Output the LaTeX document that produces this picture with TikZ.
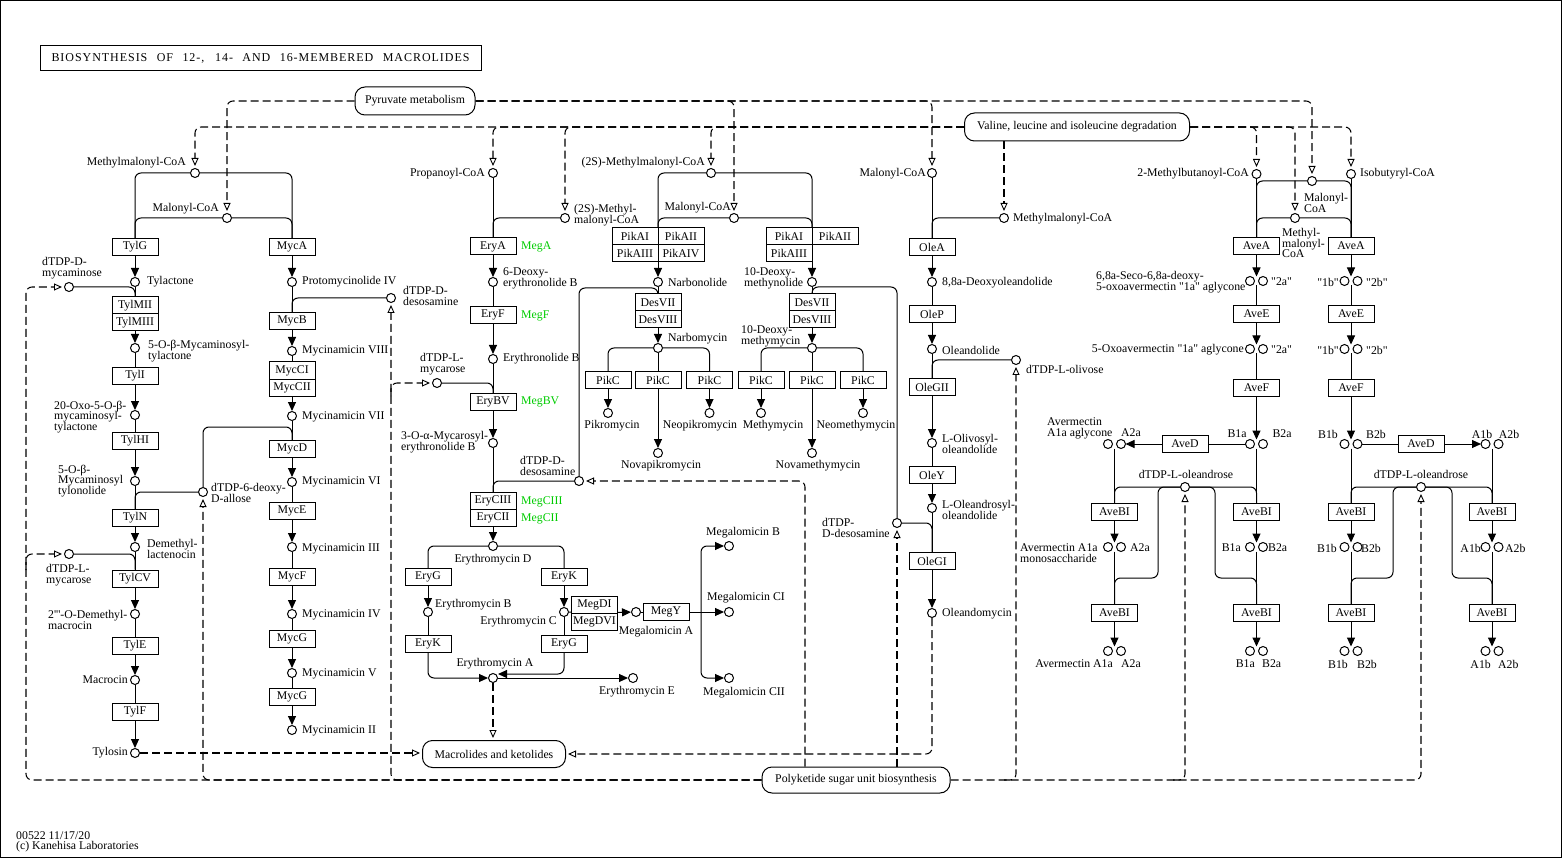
\documentclass[tikz,border=0pt]{standalone}
\usepackage{fontspec}
\setmainfont{Liberation Serif}
\usetikzlibrary{arrows.meta}
\pgfdeclarelayer{bg}
\pgfsetlayers{bg,main}
\definecolor{kgreen}{RGB}{0,204,0}
\newcommand\lf{\fontsize{11.8}{10.8}\selectfont}
\newcommand\qq{\textquotedbl}
\newcommand\Cpd[2]{\node[cpd] (#1) at (#2) {};}
\newcommand\Enz[3]{\node[enz] (#1) at (#2) {#3};}
\newcommand\Lbl[4]{\node[lbl,anchor=#2] (#1) at (#3) {#4};}
\newcommand\Grn[3]{\node[lbl,text=kgreen,anchor=west] (#1) at (#2) {#3};}
\newcommand\Pair[3]{\node[cpd] (#1l) at ({#2-6.5},#3) {};\node[cpd] (#1r) at ({#2+6.5},#3) {};\node[grp,minimum width=22pt,minimum height=9pt] (#1) at (#2,#3) {};}
\tikzset{
  cpd/.style={circle,draw,fill=white,line width=1pt,minimum size=9pt,inner sep=0pt},
  enz/.style={draw,fill=white,line width=1pt,minimum width=46pt,minimum height=17pt,inner sep=0pt,font=\lf},
  lbl/.style={font=\lf,inner sep=0pt,align=left},
  mapbox/.style={draw,fill=white,line width=1pt,rounded corners=10pt,inner sep=0pt,font=\lf},
  grp/.style={inner sep=0pt,outer sep=0pt},
  rx/.style={line width=1pt,rounded corners=6pt},
  fa/.style={-{Triangle[length=9pt,width=8pt]}},
  link/.style={line width=1.05pt,dash pattern=on 8pt off 4pt,rounded corners=6pt},
  oa/.style={-{Triangle[open,length=8pt,width=7pt,line width=0.9pt]},shorten >=2pt},
}
\begin{document}
\begin{tikzpicture}[x=1pt,y=-1pt]
\useasboundingbox (0,0) rectangle (1563,858);
\draw[line width=1pt] (0.5,0.5) rectangle (1561,857);
\node[draw,line width=1pt,minimum width=441pt,minimum height=25pt,inner sep=0pt] (title) at (260.5,58.5)
  {\fontsize{12}{12}\selectfont\addfontfeature{LetterSpace=8}\makebox[418pt][s]{BIOSYNTHESIS OF 12-, 14- AND 16-MEMBERED MACROLIDES}};
\Lbl{f1}{west}{16,836}{00522 11/17/20}
\Lbl{f2}{west}{16,847}{(c) Kanehisa Laboratories}

% map boxes
\node[mapbox,minimum width=120pt,minimum height=28pt] (pyr) at (415,101) {Pyruvate metabolism};
\node[mapbox,minimum width=225pt,minimum height=28pt] (val) at (1077,127) {Valine, leucine and isoleucine degradation};
\node[mapbox,minimum width=143pt,minimum height=27pt] (mak) at (494,754) {Macrolides and ketolides};
\node[mapbox,minimum width=188pt,minimum height=26pt] (pks) at (856,780) {Polyketide sugar unit biosynthesis};

% ---------- Tylosin ----------
\Cpd{cMm1}{195,173} \Lbl{t1}{east}{186,163}{Methylmalonyl-CoA}
\Cpd{cMal1}{227,218} \Lbl{t2}{east}{219,209}{Malonyl-CoA}
\Enz{eTylG}{135,247}{TylG}
\Cpd{cTylactone}{135,282} \Lbl{t3}{west}{147,282}{Tylactone}
\Cpd{cMycam}{69,287} \Lbl{t4}{west}{42,268}{dTDP-D-\\mycaminose}
\Enz{eTylMII}{135,305.5}{TylMII}
\Enz{eTylMIII}{135,322.5}{TylMIII}
\Cpd{cMtyl}{135,348} \Lbl{t5}{west}{148,351}{5-O-β-Mycaminosyl-\\tylactone}
\Enz{eTylI}{135,376}{TylI}
\Cpd{cOxo}{135,415} \Lbl{t6}{west}{54,417}{20-Oxo-5-O-β-\\mycaminosyl-\\tylactone}
\Enz{eTylHI}{135,441}{TylHI}
\Cpd{cMyctyl}{135,481} \Lbl{t7}{west}{58,481}{5-O-β-\\Mycaminosyl\\tylonolide}
\Cpd{cAllose}{203,492} \Lbl{t8}{west}{211,493}{dTDP-6-deoxy-\\D-allose}
\Enz{eTylN}{135,518}{TylN}
\Cpd{cDemeth}{135,547} \Lbl{t9}{west}{147,549}{Demethyl-\\lactenocin}
\Cpd{cMycar1}{69,554} \Lbl{t10}{west}{46,575}{dTDP-L-\\mycarose}
\Enz{eTylCV}{135,578.5}{TylCV}
\Cpd{cDemacro}{135,614} \Lbl{t11}{west}{48,620}{2\textquotesingle\textquotesingle\textquotesingle-O-Demethyl-\\macrocin}
\Enz{eTylE}{135,645.5}{TylE}
\Cpd{cMacrocin}{135,680} \Lbl{t12}{east}{128,680}{Macrocin}
\Enz{eTylF}{135,711.5}{TylF}
\Cpd{cTylosin}{135,753} \Lbl{t13}{east}{128,753}{Tylosin}

% ---------- Mycinamicin ----------
\Enz{eMycA}{292,247}{MycA}
\Cpd{cProto}{292,282} \Lbl{m1}{west}{302,282}{Protomycinolide IV}
\Cpd{cDeso1}{391,298} \Lbl{m2}{west}{403,296}{dTDP-D-\\desosamine}
\Enz{eMycB}{292,321}{MycB}
\Cpd{cMyc8}{292,351} \Lbl{m3}{west}{302,351}{Mycinamicin VIII}
\Enz{eMycCI}{292,370.5}{MycCI}
\Enz{eMycCII}{292,387.5}{MycCII}
\Cpd{cMyc7}{292,416} \Lbl{m4}{west}{302,417}{Mycinamicin VII}
\Enz{eMycD}{292,449}{MycD}
\Cpd{cMyc6}{292,482} \Lbl{m5}{west}{302,482}{Mycinamicin VI}
\Enz{eMycE}{292,511}{MycE}
\Cpd{cMyc3}{292,547} \Lbl{m6}{west}{302,549}{Mycinamicin III}
\Enz{eMycF}{292,577}{MycF}
\Cpd{cMyc4}{292,614} \Lbl{m7}{west}{302,615}{Mycinamicin IV}
\Enz{eMycG1}{292,639}{MycG}
\Cpd{cMyc5}{292,673} \Lbl{m8}{west}{302,674}{Mycinamicin V}
\Enz{eMycG2}{292,697}{MycG}
\Cpd{cMyc2}{292,730} \Lbl{m9}{west}{302,731}{Mycinamicin II}

% ---------- Erythromycin ----------
\Cpd{cProp}{493,173} \Lbl{r1}{east}{485,174}{Propanoyl-CoA}
\Cpd{cSmm1}{565,218} \Lbl{r2}{west}{574,215}{(2S)-Methyl-\\malonyl-CoA}
\Enz{eEryA}{493,246.5}{EryA} \Grn{g1}{521,247}{MegA}
\Cpd{cDeb}{493,282} \Lbl{r3}{west}{503,278}{6-Deoxy-\\erythronolide B}
\Enz{eEryF}{493,315}{EryF} \Grn{g2}{521,316}{MegF}
\Cpd{cEryB}{493,359} \Lbl{r4}{west}{503,359}{Erythronolide B}
\Cpd{cMycar2}{437,383} \Lbl{r5}{west}{420,364}{dTDP-L-\\mycarose}
\Enz{eEryBV}{493,402}{EryBV} \Grn{g3}{521,402}{MegBV}
\Cpd{cMycEryB}{493,443} \Lbl{r6}{west}{401,442}{3-O-α-Mycarosyl-\\erythronolide B}
\Cpd{cDeso2}{579,481} \Lbl{r7}{west}{520,466}{dTDP-D-\\desosamine}
\Enz{eEryCIII}{493,501}{EryCIII} \Grn{g4}{521,502}{MegCIII}
\Enz{eEryCII}{493,518}{EryCII} \Grn{g5}{521,519}{MegCII}
\Cpd{cEryD}{493,546} \Lbl{r8}{center}{493,560}{Erythromycin D}
\Enz{eEryG1}{428,577}{EryG}
\Enz{eEryK1}{564,577}{EryK}
\Cpd{cEryB2}{428,612} \Lbl{r9}{west}{435,605}{Erythromycin B}
\Cpd{cEryC}{564,612} \Lbl{r10}{east}{557,622}{Erythromycin C}
\Enz{eEryK2}{428,644}{EryK}
\Enz{eEryG2}{564,644}{EryG}
\Cpd{cEryA}{493,678} \Lbl{r11}{center}{495,664}{Erythromycin A}
\Cpd{cEryE}{633,678} \Lbl{r12}{center}{637,692}{Erythromycin E}
\Enz{eMegDI}{594.5,604.5}{MegDI}
\Enz{eMegDVI}{594.5,621.5}{MegDVI}
\node[grp,minimum width=46pt,minimum height=34pt] (gMegD) at (594.5,613) {};
\Cpd{cMegA}{636,612} \Lbl{r13}{center}{656,632}{Megalomicin A}
\Enz{eMegY}{666,612}{MegY}
\Cpd{cMegB}{729,546} \Lbl{r14}{center}{743,533}{Megalomicin B}
\Cpd{cMegCI}{729,612} \Lbl{r15}{center}{746,598}{Megalomicin CI}
\Cpd{cMegCII}{729,678} \Lbl{r16}{center}{744,693}{Megalomicin CII}

% ---------- Pikromycin ----------
\Cpd{cSmm2}{711,173} \Lbl{p1}{east}{705,163}{(2S)-Methylmalonyl-CoA}
\Cpd{cMal2}{734,218} \Lbl{p2}{east}{731,208}{Malonyl-CoA}
\Enz{ePikAI1}{635,236}{PikAI} \Enz{ePikAII1}{681,236}{PikAII}
\Enz{ePikAIII1}{635,253}{PikAIII} \Enz{ePikAIV1}{681,253}{PikAIV}
\node[grp,minimum width=92pt,minimum height=34pt] (gPik1) at (658,244.5) {};
\Cpd{cNarbonolide}{658,282} \Lbl{p3}{west}{668,282}{Narbonolide}
\Enz{eDesVII1}{658,302.5}{DesVII}
\Enz{eDesVIII1}{658,319.5}{DesVIII}
\Cpd{cNarbomycin}{658,348} \Lbl{p4}{west}{668,339}{Narbomycin}
\Enz{ePikC1}{608,380}{PikC} \Enz{ePikC2}{658,380}{PikC} \Enz{ePikC3}{709.5,380}{PikC}
\Cpd{cPikro}{608,413} \Lbl{p5}{center}{612,426}{Pikromycin}
\Cpd{cNovapik}{658,453} \Lbl{p6}{center}{661,466}{Novapikromycin}
\Cpd{cNeopik}{709.5,413} \Lbl{p7}{center}{700,426}{Neopikromycin}
\Enz{ePikAI2}{789,236}{PikAI} \Enz{ePikAII2}{835,236}{PikAII}
\Enz{ePikAIII2}{789,253}{PikAIII}
\node[grp,minimum width=92pt,minimum height=34pt] (gPik2) at (812,244.5) {};
\Cpd{cDmn}{812,282} \Lbl{p8}{west}{744,278}{10-Deoxy-\\methynolide}
\Enz{eDesVII2}{812,302.5}{DesVII}
\Enz{eDesVIII2}{812,319.5}{DesVIII}
\Cpd{cDmm}{812,348} \Lbl{p9}{west}{741,336}{10-Deoxy-\\methymycin}
\Enz{ePikC4}{761,380}{PikC} \Enz{ePikC5}{812,380}{PikC} \Enz{ePikC6}{863,380}{PikC}
\Cpd{cMethy}{761,413} \Lbl{p10}{center}{773,426}{Methymycin}
\Cpd{cNovameth}{812,453} \Lbl{p11}{center}{818,466}{Novamethymycin}
\Cpd{cNeometh}{863,413} \Lbl{p12}{center}{856,426}{Neomethymycin}

% ---------- Oleandomycin ----------
\Cpd{cMal3}{932,173} \Lbl{o1}{east}{926,174}{Malonyl-CoA}
\Cpd{cMm2}{1004,218} \Lbl{o2}{west}{1013,219}{Methylmalonyl-CoA}
\Enz{eOleA}{932,247}{OleA}
\Cpd{cDeoxyOle}{932,282} \Lbl{o3}{west}{942,283}{8,8a-Deoxyoleandolide}
\Enz{eOleP}{932,314}{OleP}
\Cpd{cOleandolide}{932,349} \Lbl{o4}{west}{942,350}{Oleandolide}
\Cpd{cOlivose}{1016,360} \Lbl{o5}{west}{1026,369}{dTDP-L-olivose}
\Enz{eOleGII}{932,387}{OleGII}
\Cpd{cOlivosyl}{932,443} \Lbl{o6}{west}{942,444}{L-Olivosyl-\\oleandolide}
\Enz{eOleY}{932,475}{OleY}
\Cpd{cOleandrosyl}{932,508} \Lbl{o7}{west}{942,510}{L-Oleandrosyl-\\oleandolide}
\Cpd{cDeso3}{897,523} \Lbl{o8}{west}{822,528}{dTDP-\\D-desosamine}
\Enz{eOleGI}{932,561}{OleGI}
\Cpd{cOleandomycin}{932,613} \Lbl{o9}{west}{942,614}{Oleandomycin}

% ---------- Avermectin ----------
\Cpd{cMbut}{1256.5,174} \Lbl{a1}{east}{1249,174}{2-Methylbutanoyl-CoA}
\Cpd{cMal4}{1312,181} \Lbl{a2}{west}{1304,203}{Malonyl-\\CoA}
\Cpd{cMm3}{1295,218} \Lbl{a3}{west}{1282,243}{Methyl-\\malonyl-\\CoA}
\Cpd{cIsob}{1351,174} \Lbl{a4}{west}{1360,174}{Isobutyryl-CoA}
\Enz{eAveA1}{1256.5,246}{AveA} \Enz{eAveA2}{1351,246}{AveA}
\Pair{pAa}{1256.5}{281} \Pair{pBa}{1351}{281}
\Lbl{a5}{west}{1096,282}{6,8a-Seco-6,8a-deoxy-\\5-oxoavermectin \qq1a\qq{} aglycone}
\Lbl{a6}{west}{1271,282}{\qq2a\qq} \Lbl{a7}{east}{1339,282}{\qq1b\qq} \Lbl{a8}{west}{1366,282}{\qq2b\qq}
\Enz{eAveE1}{1256.5,314}{AveE} \Enz{eAveE2}{1351,314}{AveE}
\Pair{pAb}{1256.5}{349} \Pair{pBb}{1351}{349}
\Lbl{a9}{east}{1244,350}{5-Oxoavermectin \qq1a\qq{} aglycone}
\Lbl{a10}{west}{1271,350}{\qq2a\qq} \Lbl{a11}{east}{1339,350}{\qq1b\qq} \Lbl{a12}{west}{1366,350}{\qq2b\qq}
\Enz{eAveF1}{1256.5,388}{AveF} \Enz{eAveF2}{1351,388}{AveF}
\Pair{pAgl}{1114.5}{444} \Pair{pB1a}{1256.5}{444} \Pair{pB1b}{1351}{444} \Pair{pA1b}{1492}{444}
\Lbl{a13}{center}{1237,434}{B1a} \Lbl{a14}{center}{1282,434}{B2a}
\Lbl{a15}{west}{1047,428}{Avermectin\\A1a aglycone} \Lbl{a16}{center}{1131,433}{A2a}
\Lbl{a17}{center}{1328,434}{B1b} \Lbl{a18}{center}{1376,434}{B2b}
\Lbl{a19}{center}{1482,434}{A1b} \Lbl{a20}{center}{1509,434}{A2b}
\Enz{eAveD1}{1185,444}{AveD} \Enz{eAveD2}{1421,444}{AveD}
\Cpd{cOlea1}{1185,487} \Lbl{a21}{center}{1186,474}{dTDP-L-oleandrose}
\Cpd{cOlea2}{1421,487} \Lbl{a22}{center}{1421,474}{dTDP-L-oleandrose}
\Enz{eAveBI1}{1114.5,512}{AveBI} \Enz{eAveBI2}{1256.5,512}{AveBI}
\Enz{eAveBI3}{1351,512}{AveBI} \Enz{eAveBI4}{1492,512}{AveBI}
\Pair{pMono}{1114.5}{547} \Pair{pB1a2}{1256.5}{547} \Pair{pB1b2}{1351}{547} \Pair{pA1b2}{1492}{547}
\Lbl{a23}{west}{1020,553}{Avermectin A1a\\monosaccharide} \Lbl{a24}{west}{1130,548}{A2a}
\Lbl{a25}{east}{1241,548}{B1a} \Lbl{a26}{west}{1268,548}{B2a}
\Lbl{a27}{east}{1337,548}{B1b} \Lbl{a28}{west}{1361,548}{B2b}
\Lbl{a29}{east}{1481,548}{A1b} \Lbl{a30}{west}{1505,548}{A2b}
\Enz{eAveBI5}{1114.5,613}{AveBI} \Enz{eAveBI6}{1256.5,613}{AveBI}
\Enz{eAveBI7}{1351,613}{AveBI} \Enz{eAveBI8}{1492,613}{AveBI}
\Pair{pF1}{1114.5}{651} \Pair{pF2}{1256.5}{651} \Pair{pF3}{1351}{651} \Pair{pF4}{1492}{651}
\Lbl{a31}{east}{1113,664}{Avermectin A1a} \Lbl{a32}{west}{1121,664}{A2a}
\Lbl{a33}{east}{1255,664}{B1a} \Lbl{a34}{west}{1262,664}{B2a}
\Lbl{a35}{east}{1348,664}{B1b} \Lbl{a36}{west}{1357,664}{B2b}
\Lbl{a37}{east}{1491,664}{A1b} \Lbl{a38}{west}{1498,664}{A2b}

% junction coordinates
\coordinate (kAl) at (203,427);
\coordinate (kD2) at (579,288);
\coordinate (kD3) at (897,287);
\coordinate (kMeg) at (701,612);
\coordinate (j1) at (1158,578);
\coordinate (j2) at (1215,578);
\coordinate (j3) at (1393,578);
\coordinate (j4) at (1452,578);
\coordinate (k26) at (26,287);
\coordinate (k26b) at (26,570);
\coordinate (k391) at (391,396);
\coordinate (k805) at (805,481);
\coordinate (kb1) at (1004,780);
\coordinate (kb2) at (1173,780);

\begin{pgfonlayer}{bg}
% Tylosin
\draw[rx] (cMm1) -| (eTylG); \draw[rx] (cMm1) -| (eMycA);
\draw[rx] (cMal1) -| (eTylG); \draw[rx] (cMal1) -| (eMycA);
\draw[rx,fa] (eTylG) -- (cTylactone);
\draw[rx] (cTylactone) -- (eTylMII);
\draw[rx] (cMycam) -| (eTylMII);
\draw[rx,fa] (eTylMIII) -- (cMtyl);
\draw[rx] (cMtyl) -- (eTylI);
\draw[rx,fa] (eTylI) -- (cOxo);
\draw[rx] (cOxo) -- (eTylHI);
\draw[rx,fa] (eTylHI) -- (cMyctyl);
\draw[rx] (cMyctyl) -- (eTylN);
\draw[rx] (cAllose) -| (eTylN);
\draw[rx,fa] (eTylN) -- (cDemeth);
\draw[rx] (cDemeth) -- (eTylCV);
\draw[rx] (cMycar1) -| (eTylCV);
\draw[rx,fa] (eTylCV) -- (cDemacro);
\draw[rx] (cDemacro) -- (eTylE);
\draw[rx,fa] (eTylE) -- (cMacrocin);
\draw[rx] (cMacrocin) -- (eTylF);
\draw[rx,fa] (eTylF) -- (cTylosin);
% Mycinamicin
\draw[rx,fa] (eMycA) -- (cProto);
\draw[rx] (cProto) -- (eMycB);
\draw[rx] (cDeso1) -| (eMycB);
\draw[rx,fa] (eMycB) -- (cMyc8);
\draw[rx] (cMyc8) -- (eMycCI);
\draw[rx,fa] (eMycCII) -- (cMyc7);
\draw[rx] (cMyc7) -- (eMycD);
\draw[rx] (cAllose) -- (kAl) -| (eMycD);
\draw[rx,fa] (eMycD) -- (cMyc6);
\draw[rx] (cMyc6) -- (eMycE);
\draw[rx,fa] (eMycE) -- (cMyc3);
\draw[rx] (cMyc3) -- (eMycF);
\draw[rx,fa] (eMycF) -- (cMyc4);
\draw[rx] (cMyc4) -- (eMycG1);
\draw[rx,fa] (eMycG1) -- (cMyc5);
\draw[rx] (cMyc5) -- (eMycG2);
\draw[rx,fa] (eMycG2) -- (cMyc2);
% Erythromycin
\draw[rx] (cProp) -- (eEryA);
\draw[rx] (cSmm1) -| (eEryA);
\draw[rx,fa] (eEryA) -- (cDeb);
\draw[rx] (cDeb) -- (eEryF);
\draw[rx,fa] (eEryF) -- (cEryB);
\draw[rx] (cEryB) -- (eEryBV);
\draw[rx] (cMycar2) -| (eEryBV);
\draw[rx,fa] (eEryBV) -- (cMycEryB);
\draw[rx] (cMycEryB) -- (eEryCIII);
\draw[rx] (cDeso2) -| (eEryCIII);
\draw[rx] (cDeso2) -- (kD2) -| (eDesVII1);
\draw[rx,fa] (eEryCII) -- (cEryD);
\draw[rx] (cEryD) -| (eEryG1);
\draw[rx] (cEryD) -| (eEryK1);
\draw[rx,fa] (eEryG1) -- (cEryB2);
\draw[rx] (cEryB2) -- (eEryK2);
\draw[rx,fa] (eEryK2) |- (cEryA);
\draw[rx,fa] (eEryK1) -- (cEryC);
\draw[rx] (cEryC) -- (eEryG2);
\draw[rx,fa] (eEryG2) |- ([yshift=4pt]cEryA.east);
\draw[rx,fa] (cEryA) -- (cEryE);
\draw[rx] (cEryC) -- (gMegD);
\draw[rx,fa] (gMegD) -- (cMegA);
\draw[rx] (cMegA) -- (eMegY);
\draw[rx] (eMegY) -- (kMeg);
\draw[rx,fa] (kMeg) |- (cMegB);
\draw[rx,fa] (kMeg) -- (cMegCI);
\draw[rx,fa] (kMeg) |- (cMegCII);
% Pikromycin
\draw[rx] (cSmm2) -| (gPik1); \draw[rx] (cSmm2) -| (gPik2);
\draw[rx] (cMal2) -| (gPik1); \draw[rx] (cMal2) -| (gPik2);
\draw[rx,fa] (gPik1) -- (cNarbonolide);
\draw[rx] (cNarbonolide) -- (eDesVII1);
\draw[rx,fa] (eDesVIII1) -- (cNarbomycin);
\draw[rx] (cNarbomycin) -| (ePikC1);
\draw[rx] (cNarbomycin) -- (ePikC2);
\draw[rx] (cNarbomycin) -| (ePikC3);
\draw[rx,fa] (ePikC1) -- (cPikro);
\draw[rx,fa] (ePikC2) -- (cNovapik);
\draw[rx,fa] (ePikC3) -- (cNeopik);
\draw[rx,fa] (gPik2) -- (cDmn);
\draw[rx] (cDmn) -- (eDesVII2);
\draw[rx] (cDeso3) -- (kD3) -| (eDesVII2);
\draw[rx,fa] (eDesVIII2) -- (cDmm);
\draw[rx] (cDmm) -| (ePikC4);
\draw[rx] (cDmm) -- (ePikC5);
\draw[rx] (cDmm) -| (ePikC6);
\draw[rx,fa] (ePikC4) -- (cMethy);
\draw[rx,fa] (ePikC5) -- (cNovameth);
\draw[rx,fa] (ePikC6) -- (cNeometh);
% Oleandomycin
\draw[rx] (cMal3) -- (eOleA);
\draw[rx] (cMm2) -| (eOleA);
\draw[rx,fa] (eOleA) -- (cDeoxyOle);
\draw[rx] (cDeoxyOle) -- (eOleP);
\draw[rx,fa] (eOleP) -- (cOleandolide);
\draw[rx] (cOleandolide) -- (eOleGII);
\draw[rx] (cOlivose) -| (eOleGII);
\draw[rx,fa] (eOleGII) -- (cOlivosyl);
\draw[rx] (cOlivosyl) -- (eOleY);
\draw[rx,fa] (eOleY) -- (cOleandrosyl);
\draw[rx] (cOleandrosyl) -- (eOleGI);
\draw[rx] (cDeso3) -| (eOleGI);
\draw[rx,fa] (eOleGI) -- (cOleandomycin);
% Avermectin
\draw[rx] (cMbut) -- (eAveA1); \draw[rx] (cIsob) -- (eAveA2);
\draw[rx] (cMal4) -| (eAveA1); \draw[rx] (cMal4) -| (eAveA2);
\draw[rx] (cMm3) -| (eAveA1); \draw[rx] (cMm3) -| (eAveA2);
\draw[rx,fa] (eAveA1) -- (pAa); \draw[rx,fa] (eAveA2) -- (pBa);
\draw[rx] (pAa) -- (eAveE1); \draw[rx] (pBa) -- (eAveE2);
\draw[rx,fa] (eAveE1) -- (pAb); \draw[rx,fa] (eAveE2) -- (pBb);
\draw[rx] (pAb) -- (eAveF1); \draw[rx] (pBb) -- (eAveF2);
\draw[rx,fa] (eAveF1) -- (pB1a); \draw[rx,fa] (eAveF2) -- (pB1b);
\draw[rx] (pB1a) -- (eAveD1); \draw[rx,fa] (eAveD1) -- (pAgl);
\draw[rx] (pB1b) -- (eAveD2); \draw[rx,fa] (eAveD2) -- (pA1b);
\draw[rx] (pAgl) -- (eAveBI1); \draw[rx] (pB1a) -- (eAveBI2);
\draw[rx] (pB1b) -- (eAveBI3); \draw[rx] (pA1b) -- (eAveBI4);
\draw[rx] (cOlea1) -| (eAveBI1); \draw[rx] (cOlea1) -| (eAveBI2);
\draw[rx] (cOlea2) -| (eAveBI3); \draw[rx] (cOlea2) -| (eAveBI4);
\draw[rx,fa] (eAveBI1) -- (pMono); \draw[rx,fa] (eAveBI2) -- (pB1a2);
\draw[rx,fa] (eAveBI3) -- (pB1b2); \draw[rx,fa] (eAveBI4) -- (pA1b2);
\draw[rx] (pMono) -- (eAveBI5); \draw[rx] (pB1a2) -- (eAveBI6);
\draw[rx] (pB1b2) -- (eAveBI7); \draw[rx] (pA1b2) -- (eAveBI8);
\draw[rx] (cOlea1) -| (j1) -| (eAveBI5);
\draw[rx] (cOlea1) -| (j2) -| (eAveBI6);
\draw[rx] (cOlea2) -| (j3) -| (eAveBI7);
\draw[rx] (cOlea2) -| (j4) -| (eAveBI8);
\draw[rx,fa] (eAveBI5) -- (pF1); \draw[rx,fa] (eAveBI6) -- (pF2);
\draw[rx,fa] (eAveBI7) -- (pF3); \draw[rx,fa] (eAveBI8) -- (pF4);
% dashed map links (top)
\draw[link,oa] (val.west) -| (cMm1);
\draw[link,oa] (val.west) -| (cProp);
\draw[link,oa] (val.west) -| (cSmm1);
\draw[link,oa] (val.west) -| (cSmm2);
\draw[link,oa] (val.south -| cMm2) -- (cMm2);
\draw[link,oa] (val.east) -| (cMbut);
\draw[link,oa] (val.east) -| (cMm3);
\draw[link,oa] (val.east) -| (cIsob);
\draw[link,oa] (pyr.west) -| (cMal1);
\draw[link,oa] (pyr.east) -| (cMal2);
\draw[link,oa] (pyr.east) -| (cMal3);
\draw[link,oa] (pyr.east) -| (cMal4);
% dashed map links (bottom)
\draw[link,oa] (pks.west) -| (k26) -- (cMycam);
\draw[link,oa] (k26b) |- (cMycar1);
\draw[link,oa] (pks.west) -| (cAllose);
\draw[link,oa] (pks.west) -| (cDeso1);
\draw[link,oa] (k391) |- (cMycar2);
\draw[link,oa] (k805 |- pks.north) -- (k805) -- (cDeso2);
\draw[link,oa] (cDeso3 |- pks.north) -- (cDeso3);
\draw[link,oa] (pks.east) -| (cOlea2);
\draw[link,oa] (kb1) -| (cOlivose);
\draw[link,oa] (kb2) -| (cOlea1);
\draw[link,oa] (cTylosin) -- (cTylosin -| mak.west);
\draw[link,oa] (cEryA) -- (cEryA |- mak.north);
\draw[link,oa] (cOleandomycin) |- (mak);
\end{pgfonlayer}
\end{tikzpicture}
\end{document}
